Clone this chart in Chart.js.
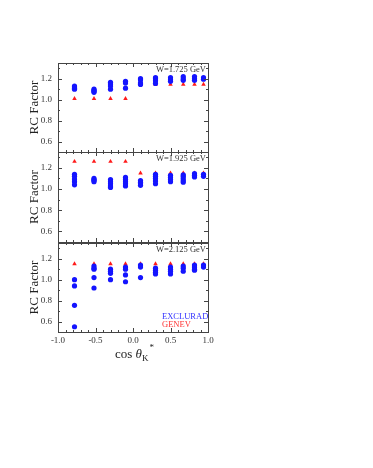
<!DOCTYPE html>
<html>
<head>
<meta charset="utf-8">
<script src="https://cdn.jsdelivr.net/npm/chart.js@4"></script>
<style>
  body { margin: 0; background: #fff; }
  #wrap { position: relative; width: 373px; height: 468px; }
  #wrap canvas { position: absolute; left: 0; top: 0; }
</style>
</head>
<body>
<div id="wrap">
  <canvas id="c1" width="373" height="468"></canvas>
  <canvas id="c2" width="373" height="468"></canvas>
  <canvas id="c3" width="373" height="468"></canvas>
</div>
<script>
// cos theta_K* bins
var cosTheta = [-0.78, -0.52, -0.30, -0.10, 0.10, 0.30, 0.50, 0.67, 0.82, 0.94];
var xTicks = [-1.0, -0.5, 0.0, 0.5, 1.0];
var yTicks = [0.6, 0.8, 1.0, 1.2];

// W = 1.725 GeV
var excl1 = [
  [1.13, 1.12, 1.11, 1.10],
  [1.10, 1.09, 1.08, 1.07],
  [1.165, 1.15, 1.13, 1.10],
  [1.175, 1.16, 1.11],
  [1.20, 1.19, 1.16, 1.145],
  [1.21, 1.20, 1.18, 1.155],
  [1.21, 1.19, 1.175],
  [1.22, 1.20, 1.185],
  [1.22, 1.20, 1.185],
  [1.21, 1.195]
];
var genev1 = [1.01, 1.01, 1.01, 1.01, 1.145, 1.145, 1.145, 1.145, 1.145, 1.145];

// W = 1.925 GeV
var excl2 = [
  [1.14, 1.12, 1.095, 1.07, 1.04],
  [1.10, 1.09, 1.08, 1.07],
  [1.09, 1.07, 1.05, 1.03, 1.015],
  [1.11, 1.09, 1.07, 1.05, 1.03],
  [1.08, 1.065, 1.05, 1.035],
  [1.14, 1.12, 1.10, 1.075, 1.05],
  [1.13, 1.11, 1.09, 1.07],
  [1.135, 1.12, 1.10, 1.08, 1.065],
  [1.145, 1.13, 1.115],
  [1.14, 1.12]
];
var genev2 = [1.26, 1.26, 1.26, 1.26, 1.15, 1.15, 1.15, 1.15, 1.15, 1.15];

// W = 2.125 GeV
var excl3 = [
  [1.00, 0.94, 0.755, 0.55],
  [1.13, 1.11, 1.10, 1.02, 0.92],
  [1.10, 1.08, 1.06, 1.00],
  [1.12, 1.10, 1.045, 0.98],
  [1.14, 1.12, 1.02],
  [1.11, 1.09, 1.07, 1.055],
  [1.12, 1.10, 1.08, 1.055],
  [1.13, 1.11, 1.08],
  [1.14, 1.12, 1.10, 1.09],
  [1.14, 1.12]
];
var genev3 = [1.15, 1.15, 1.15, 1.15, 1.15, 1.15, 1.15, 1.15, 1.15, 1.15];

var serif = '"Liberation Serif", "DejaVu Serif", serif';

function points(vals) {
  var out = [];
  vals.forEach(function (col, i) {
    (Array.isArray(col) ? col : [col]).forEach(function (v) {
      out.push({ x: cosTheta[i], y: v });
    });
  });
  return out;
}

// frame + inward ticks on all four sides
var framePlugin = {
  id: 'frame',
  afterDraw: function (chart, args, opts) {
    var ctx = chart.ctx, a = chart.chartArea;
    var xs = chart.scales.x, ys = chart.scales.y;
    ctx.save();
    ctx.strokeStyle = '#444';
    ctx.lineWidth = 1;
    ctx.strokeRect(Math.round(a.left) + 0.5, Math.round(a.top) + 0.5,
      Math.round(a.right - a.left), Math.round(a.bottom - a.top));
    ctx.beginPath();
    for (var i = -10; i <= 10; i++) {
      var px = Math.round(xs.getPixelForValue(i / 10)) + 0.5;
      var len = (i % 5 === 0) ? 4 : 2;
      ctx.moveTo(px, a.bottom); ctx.lineTo(px, a.bottom - len);
      ctx.moveTo(px, a.top); ctx.lineTo(px, a.top + len);
    }
    for (var j = 5; j <= 13; j++) {
      var py = Math.round(ys.getPixelForValue(j / 10)) + 0.5;
      var l2 = (j % 2 === 0) ? 4 : 2;
      ctx.moveTo(a.left, py); ctx.lineTo(a.left + l2, py);
      ctx.moveTo(a.right, py); ctx.lineTo(a.right - l2, py);
    }
    ctx.stroke();

    ctx.fillStyle = '#333';
    ctx.font = '8.5px ' + serif;
    ctx.textAlign = 'right';
    ctx.textBaseline = 'middle';
    ctx.fillText(opts.label, a.right - 2, a.top + 6.5);

    ctx.font = '13px ' + serif;
    ctx.fillStyle = '#222';
    ctx.textAlign = 'center';
    ctx.translate(35, (a.top + a.bottom) / 2);
    ctx.rotate(-Math.PI / 2);
    ctx.fillText('RC Factor', 0, 0);
    ctx.restore();

    if (opts.bottom) {
      ctx.save();
      ctx.fillStyle = '#3333ff';
      ctx.font = '8.5px ' + serif;
      ctx.textAlign = 'left';
      ctx.textBaseline = 'middle';
      ctx.fillText('EXCLURAD', 162, 317);
      ctx.fillStyle = '#ff3333';
      ctx.fillText('GENEV', 162, 324.5);

      // x axis title: cos θK*
      ctx.fillStyle = '#222';
      ctx.textBaseline = 'alphabetic';
      var t1 = 'cos ';
      ctx.font = 'italic 13px ' + serif;
      var wTh = ctx.measureText('θ').width;
      ctx.font = '13px ' + serif;
      var w1 = ctx.measureText(t1).width;
      ctx.font = '9px ' + serif;
      var wK = ctx.measureText('K').width;
      var x0 = 115, yb = 358;
      ctx.font = '13px ' + serif;
      ctx.fillText(t1, x0, yb);
      ctx.font = 'italic 13px ' + serif;
      ctx.fillText('θ', x0 + w1, yb);
      ctx.font = '9px ' + serif;
      ctx.fillText('K', x0 + w1 + wTh, yb + 3);
      ctx.fillText('*', x0 + w1 + wTh + wK + 1, yb - 8);
      ctx.restore();
    }
  }
};

function makeChart(id, excl, genev, top, bottom, label, showX) {
  return new Chart(document.getElementById(id), {
    type: 'scatter',
    data: {
      datasets: [{
        label: 'EXCLURAD',
        data: points(excl),
        pointStyle: 'circle',
        pointRadius: 2.6,
        backgroundColor: '#1414ff',
        borderColor: '#1414ff',
        borderWidth: 0,
        order: 1
      }, {
        label: 'GENEV',
        data: points(genev),
        pointStyle: 'triangle',
        pointRadius: 2.6,
        backgroundColor: '#ff1a1a',
        borderColor: '#ff1a1a',
        borderWidth: 0,
        order: 2
      }]
    },
    options: {
      responsive: false,
      animation: false,
      events: [],
      layout: { padding: { left: 0, right: 165, top: top, bottom: showX ? 0 : 468 - bottom } },
      plugins: {
        legend: { display: false },
        tooltip: { enabled: false },
        frame: { label: label, bottom: showX }
      },
      scales: {
        x: {
          type: 'linear',
          min: -1, max: 1,
          grid: { display: false, drawTicks: false },
          border: { display: false },
          afterBuildTicks: function (s) { s.ticks = xTicks.map(function (v) { return { value: v }; }); },
          afterFit: function (s) { s.height = showX ? 468 - bottom : 0; },
          ticks: {
            display: showX,
            padding: 3,
            color: '#333',
            font: { family: serif, size: 9 },
            callback: function (v) { return v.toFixed(1); }
          }
        },
        y: {
          min: 0.5, max: 1.35,
          grid: { display: false, drawTicks: false },
          border: { display: false },
          afterBuildTicks: function (s) { s.ticks = yTicks.map(function (v) { return { value: v }; }); },
          afterFit: function (s) { s.width = 58; },
          ticks: {
            padding: 6,
            color: '#333',
            font: { family: serif, size: 9 },
            callback: function (v) { return v.toFixed(1); }
          }
        }
      }
    },
    plugins: [framePlugin]
  });
}

makeChart('c1', excl1, genev1, 63, 152, 'W=1.725 GeV', false);
makeChart('c2', excl2, genev2, 152, 242, 'W=1.925 GeV', false);
makeChart('c3', excl3, genev3, 243, 332, 'W=2.125 GeV', true);
</script>
</body>
</html>
